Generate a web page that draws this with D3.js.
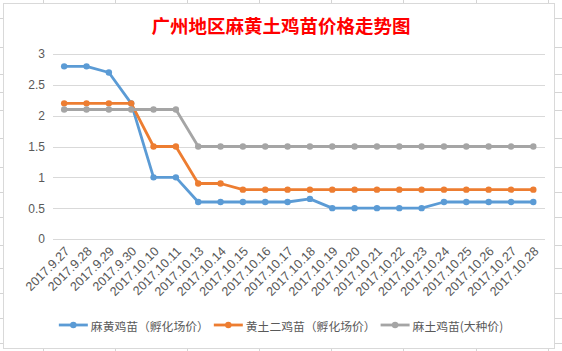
<!DOCTYPE html>
<html>
<head>
<meta charset="utf-8">
<script src="https://cdn.jsdelivr.net/npm/d3@7"></script>
<style>
  html, body { margin: 0; padding: 0; background: #fff; }
  svg { display: block; }
</style>
</head>
<body>
<svg id="chart" width="562" height="351"></svg>
<script>
// ---- data ----
const title = "广州地区麻黄土鸡苗价格走势图";
const categories = ["2017.9.27","2017.9.28","2017.9.29","2017.9.30","2017.10.10","2017.10.11","2017.10.13","2017.10.14","2017.10.15","2017.10.16","2017.10.17","2017.10.18","2017.10.19","2017.10.20","2017.10.21","2017.10.22","2017.10.23","2017.10.24","2017.10.25","2017.10.26","2017.10.27","2017.10.28"];
const seriesNames = ["麻黄鸡苗（孵化场价）", "黄土二鸡苗（孵化场价）", "麻土鸡苗(大种价)"];
const mahuang = [2.8,2.8,2.7,2.2,1.0,1.0,0.6,0.6,0.6,0.6,0.6,0.65,0.5,0.5,0.5,0.5,0.5,0.6,0.6,0.6,0.6,0.6];
const huangtu = [2.2,2.2,2.2,2.2,1.5,1.5,0.9,0.9,0.8,0.8,0.8,0.8,0.8,0.8,0.8,0.8,0.8,0.8,0.8,0.8,0.8,0.8];
const matu    = [2.1,2.1,2.1,2.1,2.1,2.1,1.5,1.5,1.5,1.5,1.5,1.5,1.5,1.5,1.5,1.5,1.5,1.5,1.5,1.5,1.5,1.5];
const yTicks = [0, 0.5, 1, 1.5, 2, 2.5, 3];
const colors = ["#5B9BD5", "#ED7D31", "#A5A5A5"];

const series = [mahuang, huangtu, matu];

const svg = d3.select("#chart");

// spreadsheet grid behind the chart
const sheetCols = [43, 115, 187, 259, 331, 403, 476, 548];
const sheetRows = [18, 47, 74, 92, 110, 138, 167, 192, 217, 245, 268, 293, 318, 343];
const sheet = svg.append("g");
sheet.selectAll("line.c").data(sheetCols).join("line")
  .attr("x1", d => d + 0.5).attr("x2", d => d + 0.5).attr("y1", 0).attr("y2", 351)
  .attr("stroke", "#D4D4D4");
sheet.selectAll("line.r").data(sheetRows).join("line")
  .attr("y1", d => d + 0.5).attr("y2", d => d + 0.5).attr("x1", 0).attr("x2", 562)
  .attr("stroke", "#D4D4D4");

// chart area
svg.append("rect").attr("x", 3.5).attr("y", 3.5).attr("width", 551).attr("height", 345)
  .attr("fill", "#fff").attr("stroke", "#D9D9D9");

// title
svg.append("text").attr("x", 281).attr("y", 25).attr("text-anchor", "middle")
  .attr("dominant-baseline", "central")
  .attr("font-family", "'Noto Sans CJK SC', sans-serif").attr("font-weight", "bold")
  .attr("font-size", 18.5).attr("fill", "#FF0000").text(title);

// scales
const x = d3.scaleBand().domain(categories).range([53, 544.5]);
const cx = d => x(d) + x.bandwidth() / 2;
const y = d3.scaleLinear().domain([0, 3]).range([239, 54]);

// gridlines
svg.append("g").selectAll("line").data(yTicks).join("line")
  .attr("x1", 53).attr("x2", 545)
  .attr("y1", d => Math.round(y(d)) + 0.5).attr("y2", d => Math.round(y(d)) + 0.5)
  .attr("stroke", "#D9D9D9").attr("stroke-width", 1);

// y axis labels
const yAxis = d3.axisLeft(y).tickValues(yTicks).tickSize(0).tickPadding(0).tickFormat(d3.format("~g"));
const gy = svg.append("g").attr("transform", "translate(45,0)").call(yAxis);
gy.select(".domain").remove();
gy.selectAll("text").attr("font-family", "'Liberation Sans', Arial, sans-serif")
  .attr("font-size", 12).attr("fill", "#595959");

// x axis labels
const xAxis = d3.axisBottom(x).tickSize(0).tickPadding(0);
const gx = svg.append("g").attr("transform", "translate(0,249)").call(xAxis);
gx.select(".domain").remove();
gx.selectAll("text")
  .attr("font-family", "'Liberation Sans', Arial, sans-serif")
  .attr("font-size", 12.6).attr("fill", "#595959")
  .attr("text-anchor", "end")
  .attr("y", 0).attr("dy", "0.35em")
  .attr("transform", "translate(3,0) rotate(-45)");

// lines and markers
const line = d3.line().x((d, i) => cx(categories[i])).y(d => y(d));
series.forEach((vals, si) => {
  const g = svg.append("g");
  g.append("path").datum(vals).attr("d", line)
    .attr("fill", "none").attr("stroke", colors[si]).attr("stroke-width", 2.8)
    .attr("stroke-linejoin", "round").attr("stroke-linecap", "round");
  g.selectAll("circle").data(vals).join("circle")
    .attr("cx", (d, i) => cx(categories[i])).attr("cy", d => y(d)).attr("r", 3.2)
    .attr("fill", colors[si]);
});

// legend
const legend = svg.append("g").attr("transform", "translate(0,325)");
const items = legend.selectAll("g").data(seriesNames).join("g");
items.append("line").attr("x1", 0).attr("x2", 29).attr("y1", 0).attr("y2", 0)
  .attr("stroke", (d, i) => colors[i]).attr("stroke-width", 2.8);
items.append("circle").attr("cx", 14.5).attr("cy", 0).attr("r", 3.2).attr("fill", (d, i) => colors[i]);
items.append("text").attr("x", 32).attr("y", 0).attr("dominant-baseline", "central")
  .attr("font-family", "'Noto Sans CJK SC', sans-serif").attr("font-size", 11.8)
  .attr("fill", "#595959").text(d => d);
const widths = [];
items.each(function() { widths.push(32 + d3.select(this).select("text").node().getComputedTextLength()); });
const gap = 5;
const total = d3.sum(widths) + gap * (widths.length - 1);
let start = 281 - total / 2;
items.attr("transform", (d, i) => {
  const t = `translate(${start},0)`;
  start += widths[i] + gap;
  return t;
});
</script>
</body>
</html>
